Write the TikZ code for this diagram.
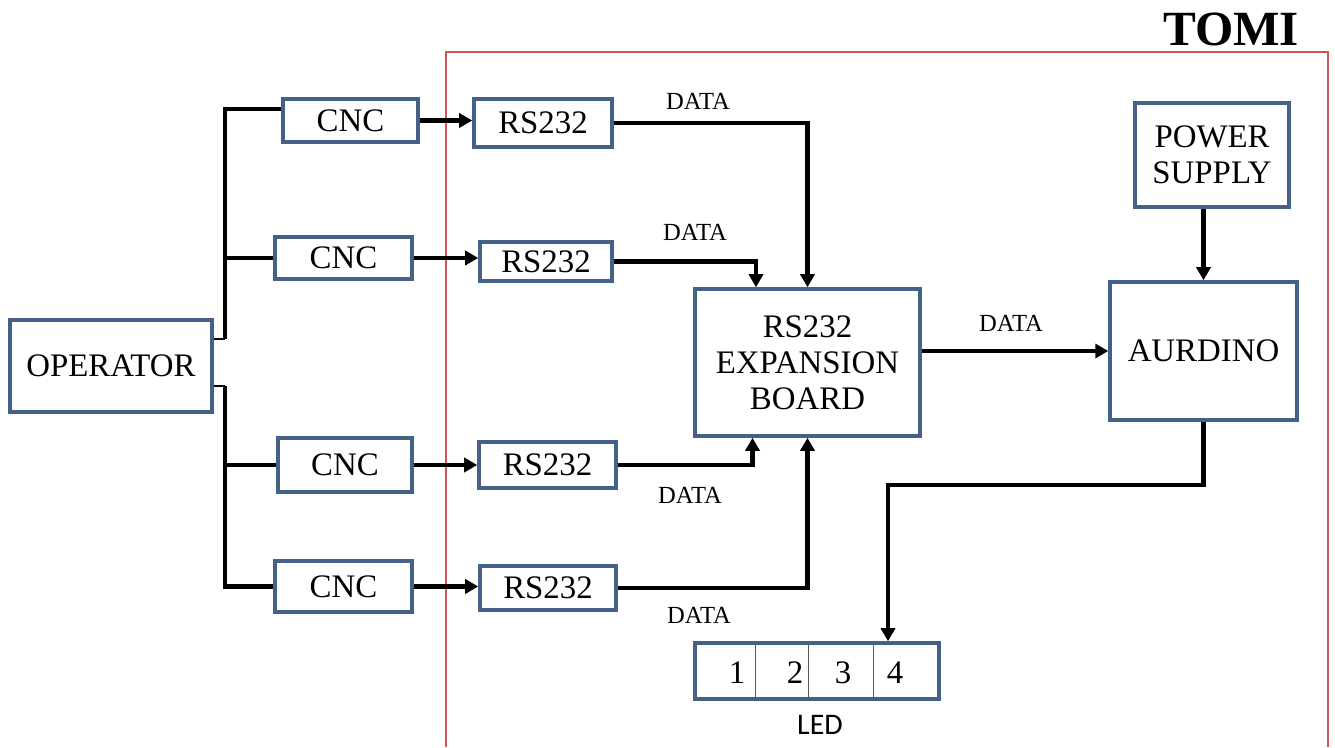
\documentclass[tikz,border=0pt]{standalone}
\usepackage{fontspec}
\setmainfont{Liberation Serif}
\newfontfamily\ledfont{Carlito}
\usepackage{tikz}
\usetikzlibrary{arrows.meta,positioning,calc}
\definecolor{boxblue}{RGB}{68,98,135}
\definecolor{tomired}{RGB}{205,85,85}
\tikzset{
  blk/.style ={draw=boxblue,line width=2pt,font=\fontsize{18.7}{20.4}\selectfont,align=center,inner sep=2pt},
  ar/.style  ={-{Triangle[length=2.6mm,width=2.8mm]},line width=2.8pt},
  bus/.style ={line width=2.8pt},
  stub/.style={line width=0.8pt},
  div/.style ={draw=black!65,line width=0.6pt},
  lbl/.style ={font=\fontsize{14}{16}\selectfont,inner sep=1pt},
  num/.style ={font=\fontsize{18.7}{20.4}\selectfont,inner sep=0pt},
}
\begin{document}
\begin{tikzpicture}
  \useasboundingbox (0,0) rectangle (26.7,14.94);
  % TOMI enclosure
  \draw[tomired,line width=0.8pt] (8.92,0) |- (26.56,13.9) -- (26.56,0);
  \node[font=\fontsize{28}{30}\selectfont\bfseries] (TOMI) at (24.62,14.36) {TOMI};

  \node[blk,minimum width=4.04cm,minimum height=1.84cm] (OP) at (2.22,7.62) {OPERATOR};
  \node[blk,minimum width=2.7cm,minimum height=0.86cm]  (CNC1) at (7.01,12.53) {CNC};
  \node[blk,minimum width=2.74cm,minimum height=0.84cm] (CNC2) at (6.87,9.78) {CNC};
  \node[blk,minimum width=2.68cm,minimum height=1.08cm] (CNC3) at (6.90,5.64) {CNC};
  \node[blk,minimum width=2.74cm,minimum height=1.02cm] (CNC4) at (6.87,3.21) {CNC};
  \node[blk,minimum width=2.76cm,minimum height=0.96cm] (RS1) at (10.86,12.48) {RS232};
  \node[blk,minimum width=2.64cm,minimum height=0.78cm] (RS2) at (10.92,9.71) {RS232};
  \node[blk,minimum width=2.74cm,minimum height=0.92cm] (RS3) at (10.95,5.64) {RS232};
  \node[blk,minimum width=2.72cm,minimum height=0.88cm] (RS4) at (10.96,3.18) {RS232};
  \node[blk,minimum width=4.5cm,minimum height=2.94cm]  (EXP) at (16.15,7.69) {RS232\\EXPANSION\\BOARD};
  \node[blk,minimum width=3.08cm,minimum height=2.08cm] (PWR) at (24.24,11.84) {POWER\\SUPPLY};
  \node[blk,minimum width=3.74cm,minimum height=2.76cm] (ARD) at (24.07,7.92) {AURDINO};

  % LED strip
  \node[blk,minimum width=4.88cm,minimum height=1.12cm] (LED) at (16.34,1.52) {};
  \foreach \dx in {1.24,2.3,3.6}
    \draw[div] ([xshift=\dx cm]LED.north west) -- ([xshift=\dx cm]LED.south west);
  \node[num] (L1) at (14.74,1.48) {1};
  \node[num] (L2) at (15.90,1.48) {2};
  \node[num] (L3) at (16.86,1.48) {3};
  \node[num] (L4) at (17.90,1.48) {4};
  \node[font=\ledfont\fontsize{17}{19}\selectfont] (LEDlbl) at (16.4,0.44) {LED};

  % operator buses
  \coordinate (busT) at (4.5,8.16);
  \coordinate (busB) at (4.5,7.22);
  \draw[stub] (busT -| OP.east) -- (busT);
  \draw[stub] (busB -| OP.east) -- (busB);
  \draw[bus] (busT) |- ([yshift=0.23cm]CNC1.west);
  \draw[bus] (busT |- CNC2.west) -- (CNC2.west);
  \draw[bus] (busB) |- (CNC4.west);
  \draw[bus] (busB |- CNC3.west) -- (CNC3.west);

  \draw[ar] (CNC1.east) -- (CNC1.east -| RS1.west);
  \draw[ar] (CNC2.east) -- (CNC2.east -| RS2.west);
  \draw[ar] (CNC3.east) -- (CNC3.east -| RS3.west);
  \draw[ar] (CNC4.east) -- (CNC4.east -| RS4.west);

  \draw[ar] (RS1.east) -| (EXP.north);
  \draw[ar] (RS2.east) -| ([xshift=-1.03cm]EXP.north);
  \draw[ar] (RS3.east) -| ([xshift=-1.1cm]EXP.south);
  \draw[ar] (RS4.east) -| (EXP.south);
  \draw[ar] (EXP.east |- ARD.west) -- (ARD.west);
  \draw[ar] (PWR.south -| ARD.north) -- (ARD.north);
  \coordinate (kink) at (17.76,5.24);
  \draw[ar] (ARD.south) |- (kink) -- (kink |- LED.north);

  \node[lbl] (D1) at (13.96,12.92) {DATA};
  \node[lbl] (D2) at (13.90,10.30) {DATA};
  \node[lbl] (D3) at (13.80,5.04)  {DATA};
  \node[lbl] (D4) at (13.98,2.64)  {DATA};
  \node[lbl] (D5) at (20.22,8.48)  {DATA};
\end{tikzpicture}
\end{document}
